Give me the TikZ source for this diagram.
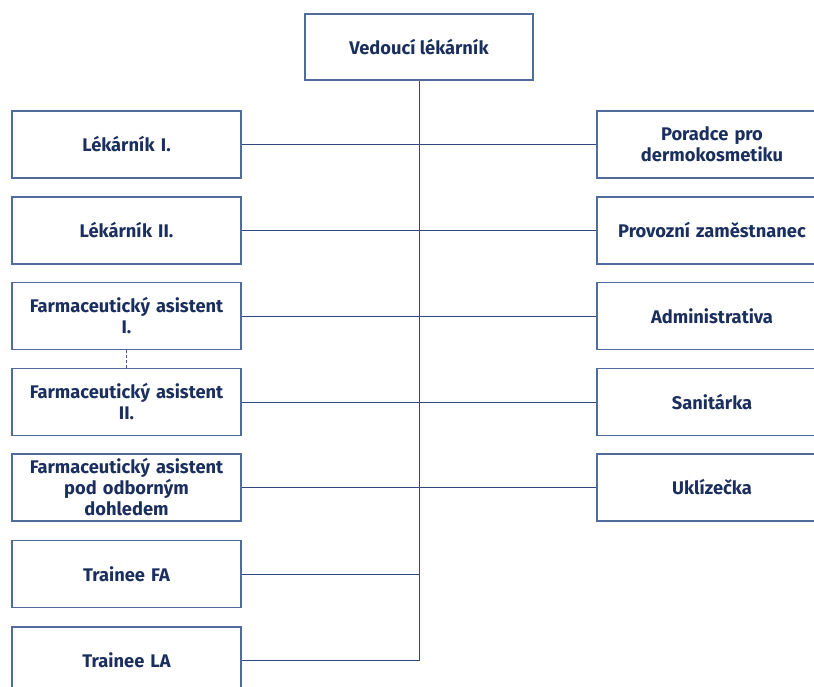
\documentclass[tikz,border=0pt]{standalone}
\usepackage{fontspec}
\setmainfont{Fira Sans}
\definecolor{txt}{HTML}{1B2F5E}
\definecolor{ln}{HTML}{4F6C9C}
\definecolor{cn}{HTML}{2F4A7E}
\begin{document}
\begin{tikzpicture}[x=1pt,y=-1pt,
  box/.style={draw=ln,line width=1.3pt,fill=white,rectangle,align=center,text=txt,
    font=\fontsize{18.3}{21}\selectfont\bfseries,inner sep=2pt},
  lbox/.style={box,minimum width=229pt,minimum height=67pt,text width=224pt},
  rbox/.style={box,minimum width=230pt,minimum height=67pt,text width=224pt},
  conn/.style={draw=cn,line width=1pt}]
\useasboundingbox (0,0) rectangle (814,686);
\clip (0,0) rectangle (814,686);
\node[box,minimum width=228pt,minimum height=66pt] (top) at (419,47) {Vedoucí lékárník};
\node[lbox] (l1) at (126.5,144.5) {Lékárník I.};
\node[lbox] (l2) at (126.5,230.5) {Lékárník II.};
\node[lbox] (l3) at (126.5,316) {Farmaceutický asistent\\I.};
\node[lbox] (l4) at (126.5,402) {Farmaceutický asistent\\II.};
\node[lbox] (l5) at (126.5,487.5) {Farmaceutický asistent\\pod odborným\\dohledem};
\node[lbox] (l6) at (126.5,574) {Trainee FA};
\node[lbox] (l7) at (126.5,660.5) {Trainee LA};
\node[rbox] (r1) at (712,144.5) {Poradce pro\\dermokosmetiku};
\node[rbox] (r2) at (712,230.5) {Provozní zaměstnanec};
\node[rbox] (r3) at (712,316) {Administrativa};
\node[rbox] (r4) at (712,402) {Sanitárka};
\node[rbox] (r5) at (712,487.5) {Uklízečka};
\coordinate (bend) at (top.south |- l7.east);
\foreach \i in {1,...,5} {\draw[conn] (l\i.east) -- (r\i.west);}
\draw[conn] (top.south) -- (bend) -- (l7.east);
\draw[conn] (l6.east) -- (l6.east -| top.south);
\draw[draw=ln!80!black,line width=0.8pt,dash pattern=on 3pt off 2pt] (l3.south) -- (l4.north);
\end{tikzpicture}
\end{document}
